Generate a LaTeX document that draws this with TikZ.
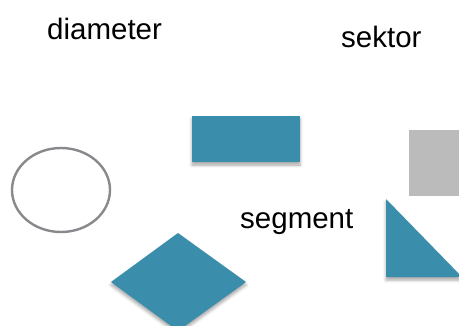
\documentclass[tikz,border=0pt]{standalone}
\usepackage{fontspec}
\setmainfont{Liberation Sans}
\usetikzlibrary{shadows.blur}
\definecolor{tileblue}{HTML}{3A8EAC}
\definecolor{tilegray}{HTML}{BBBBBB}
\definecolor{ringgray}{HTML}{88898C}
\tikzset{
  word/.style={anchor=base west,inner sep=0pt,font=\fontsize{29.5}{35}\selectfont},
  tile/.style={fill=tileblue,draw=none,blur shadow={shadow xshift=0pt,shadow yshift=-3pt,shadow blur radius=3pt,shadow opacity=35}}
}
\begin{document}
\begin{tikzpicture}[x=1pt,y=-1pt]
\useasboundingbox (0,0) rectangle (459,325);
\clip (0,0) rectangle (459,325);
% labels
\node[word] (diameter) at (47,39) {diameter};
\node[word] (sektor) at (341,47) {sektor};
\node[word] (segment) at (240,228) {segment};
% shapes
\draw[ringgray,line width=2.4pt] (61,190) ellipse [x radius=49,y radius=42];
\fill[tile] (192,116) rectangle (300,162);
\fill[tilegray] (409,130) rectangle (462,196);
\fill[tile] (386,199) -- (386,277) -- (462,277) -- cycle;
\fill[tile] (111,282) -- (178,233) -- (246,282) -- (178,331) -- cycle;
\end{tikzpicture}
\end{document}
